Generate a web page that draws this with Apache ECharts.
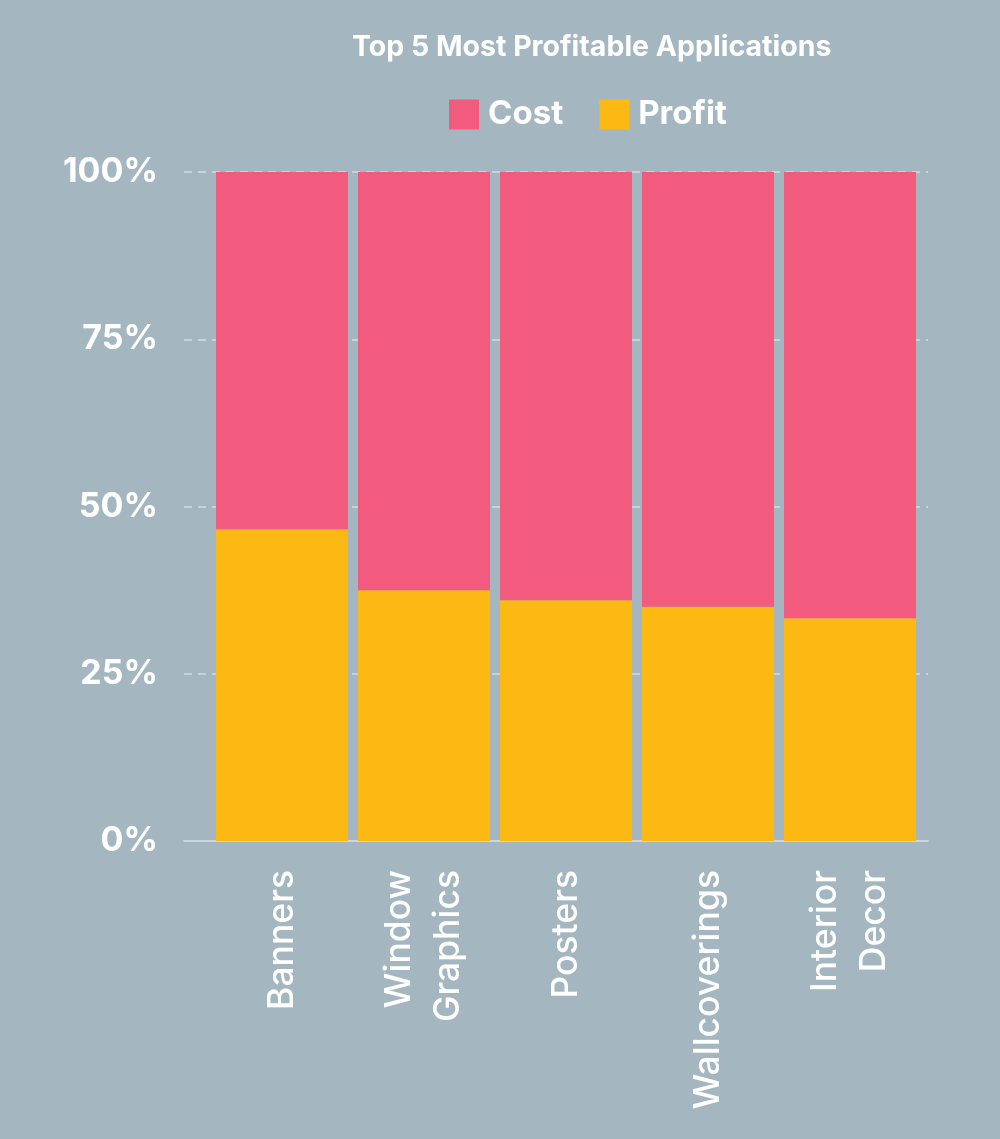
<!DOCTYPE html>
<html>
<head>
<meta charset="utf-8">
<script src="https://cdn.jsdelivr.net/npm/echarts@6/dist/echarts.min.js"></script>
<style>
html,body{margin:0;padding:0;background:#a4b7c1;}
#c{width:1000px;height:1139px;}
</style>
</head>
<body>
<div id="c"></div>
<script>
const categories = ['Banners', 'Window\nGraphics', 'Posters', 'Wallcoverings', 'Interior\nDecor'];
const profit = [46.6, 37.5, 36.0, 35.0, 33.3];
const cost = [53.4, 62.5, 64.0, 65.0, 66.7];
const yTicks = [0, 25, 50, 75, 100];

const FONT = 'Inter, "Noto Sans", sans-serif';
const chart = echarts.init(document.getElementById('c'));
chart.setOption({
  backgroundColor: '#a4b7c1',
  animation: false,
  title: {
    text: 'Top 5 Most Profitable Applications',
    left: 347, top: 28,
    textStyle: { color: '#ffffff', fontSize: 28.5, fontWeight: 'bold', fontFamily: FONT }
  },
  legend: {
    data: ['Cost', 'Profit'],
    left: 444, top: 93,
    icon: 'rect', itemWidth: 30, itemHeight: 30, itemGap: 36,
    textStyle: { color: '#ffffff', fontSize: 33, fontWeight: 'bold', fontFamily: FONT, padding: [0, 0, 0, 4] }
  },
  grid: [
    { left: 211, right: 79, top: 172, bottom: 298 },
    { left: 184, right: 72, top: 172, bottom: 298 }
  ],
  xAxis: [
    {
      type: 'category', gridIndex: 0, data: categories,
      axisLine: { show: false }, axisTick: { show: false },
      axisLabel: {
        rotate: 90, margin: 29, color: '#ffffff', fontSize: 35.5, fontWeight: 500,
        lineHeight: 49, fontFamily: FONT, interval: 0
      }
    },
    {
      type: 'value', gridIndex: 1, min: 0, max: 1,
      axisLine: { show: true, lineStyle: { color: '#cdd6db', width: 2 } },
      axisTick: { show: false }, axisLabel: { show: false }, splitLine: { show: false }
    }
  ],
  yAxis: [
    { type: 'value', gridIndex: 0, min: 0, max: 100, show: false },
    {
      type: 'value', gridIndex: 1, min: yTicks[0], max: yTicks[yTicks.length - 1], interval: 25,
      axisLine: { show: false }, axisTick: { show: false },
      axisLabel: {
        formatter: '{value}%', color: '#ffffff', fontSize: 34, fontWeight: 'bold',
        fontFamily: FONT, margin: 26
      },
      splitLine: { show: true, lineStyle: { color: '#d3dce0', type: [8, 6], width: 1.5 } }
    }
  ],
  series: [
    {
      name: 'Profit', type: 'bar', stack: 'total', xAxisIndex: 0, yAxisIndex: 0,
      data: profit, barWidth: 132, itemStyle: { color: '#fdb913' }
    },
    {
      name: 'Cost', type: 'bar', stack: 'total', xAxisIndex: 0, yAxisIndex: 0,
      data: cost, barWidth: 132, itemStyle: { color: '#f25a7e' }
    }
  ]
});
</script>
</body>
</html>
